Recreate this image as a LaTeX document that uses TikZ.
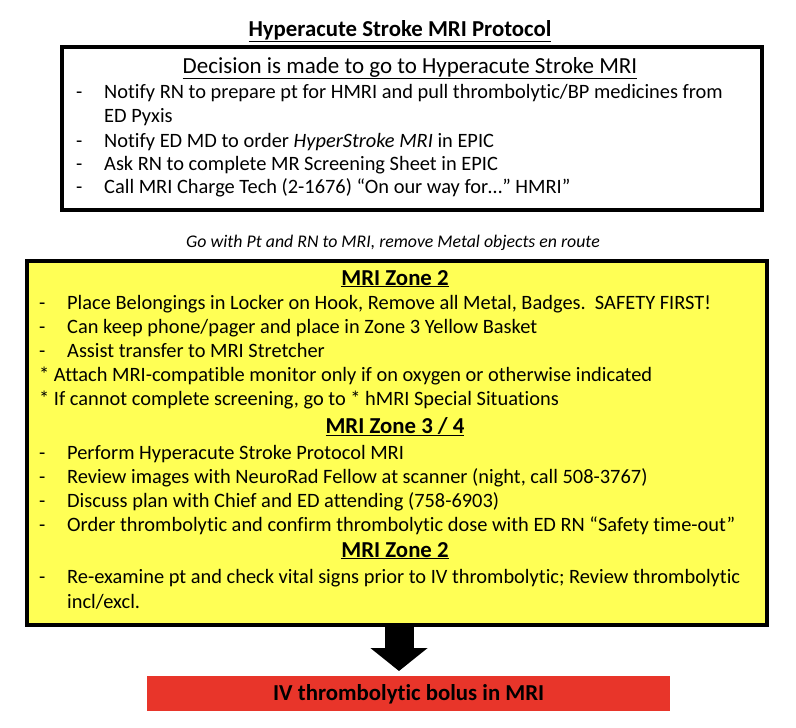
\documentclass[tikz,border=0pt]{standalone}
\usepackage{fontspec}
\setmainfont{Carlito}[Ligatures={TeX,NoCommon}]
\usepackage{xcolor}
\usetikzlibrary{positioning,arrows.meta}
\definecolor{zoneyellow}{HTML}{FFFF55}
\definecolor{bolusred}{HTML}{E8352A}
\newcommand{\bodysize}{\fontsize{20.4}{24}\selectfont}
\newcommand{\headsize}{\fontsize{22.8}{26}\selectfont}

\begin{document}
\begin{tikzpicture}[x=1pt, y=-1pt, font=\bodysize,
  box/.style={draw, line width=4pt, anchor=north west, inner sep=0pt},
  textline/.style={anchor=base west, inner sep=0pt},
  heading/.style={anchor=base, inner sep=0pt, font=\headsize\bfseries},
  bigarrow/.style={line width=29pt, -{Triangle[length=23pt, width=56pt]}, shorten >=5pt}]
\useasboundingbox (0,0) rectangle (796,728);
% title
\node[heading] (title) at (400,36) {\underline{Hyperacute Stroke MRI Protocol}};
% decision box
\node[box, minimum width=700pt, minimum height=163pt] (decision) at (60,45) {};
\node[anchor=base, inner sep=0pt, font=\fontsize{23}{27}\selectfont] (dtitle) at (410,73)
  {\underline{Decision is made to go to Hyperacute Stroke MRI}};
\foreach \y in {98,147,170,193}
  \node[textline] (dd\y) at (76,\y) {-};
\node[textline] (d1) at (104,98) {Notify RN to prepare pt for HMRI and pull thrombolytic/BP medicines from};
\node[textline] (d1b) at (104,122) {ED Pyxis};
\node[textline] (d2) at (104,147) {Notify ED MD to order \textit{HyperStroke MRI} in EPIC};
\node[textline] (d3) at (104,170) {Ask RN to complete MR Screening Sheet in EPIC};
\node[textline] (d4) at (104,193) {Call MRI Charge Tech (2-1676) “On our way for…” HMRI”};
% transfer note
\node[anchor=base, inner sep=0pt, font=\fontsize{17.8}{21}\selectfont\itshape] (route) at (393,247)
  {Go with Pt and RN to MRI, remove Metal objects en route};
% MRI zones box
\node[box, fill=zoneyellow, minimum width=740pt, minimum height=364pt] (zone) at (25,259) {};
\node[heading] (z2) at (395,285) {\underline{MRI Zone 2}};
\foreach \y in {309,333,357,459,483,507,531,583}
  \node[textline] (zd\y) at (39,\y) {-};
\node[textline] (a1) at (67,309) {Place Belongings in Locker on Hook, Remove all Metal, Badges.\ \ SAFETY FIRST!};
\node[textline] (a2) at (67,333) {Can keep phone/pager and place in Zone 3 Yellow Basket};
\node[textline] (a3) at (67,357) {Assist transfer to MRI Stretcher};
\node[textline] (a4) at (39,381) {* Attach MRI-compatible monitor only if on oxygen or otherwise indicated};
\node[textline] (a5) at (39,405) {* If cannot complete screening, go to * hMRI Special Situations};
\node[heading] (z34) at (395,433) {\underline{MRI Zone 3 / 4}};
\node[textline] (b1) at (67,459) {Perform Hyperacute Stroke Protocol MRI};
\node[textline] (b2) at (67,483) {Review images with NeuroRad Fellow at scanner (night, call 508-3767)};
\node[textline] (b3) at (67,507) {Discuss plan with Chief and ED attending (758-6903)};
\node[textline] (b4) at (67,531) {Order thrombolytic and confirm thrombolytic dose with ED RN “Safety time-out”};
\node[heading] (z2b) at (395,557) {\underline{MRI Zone 2}};
\node[textline] (c1) at (67,583) {Re-examine pt and check vital signs prior to IV thrombolytic; Review thrombolytic};
\node[textline] (c1b) at (67,608) {incl/excl.};
% final step
\node[fill=bolusred, anchor=north west, minimum width=523pt, minimum height=35pt, inner sep=0pt,
  text height=14.5pt, text depth=0pt, font=\headsize\bfseries] (bolus) at (147,676) {IV thrombolytic bolus in MRI};
\coordinate (tip) at ([xshift=2pt]zone.south |- bolus.north);
\draw[bigarrow] ([xshift=2pt]zone.south) -- (tip);
\end{tikzpicture}
\end{document}
